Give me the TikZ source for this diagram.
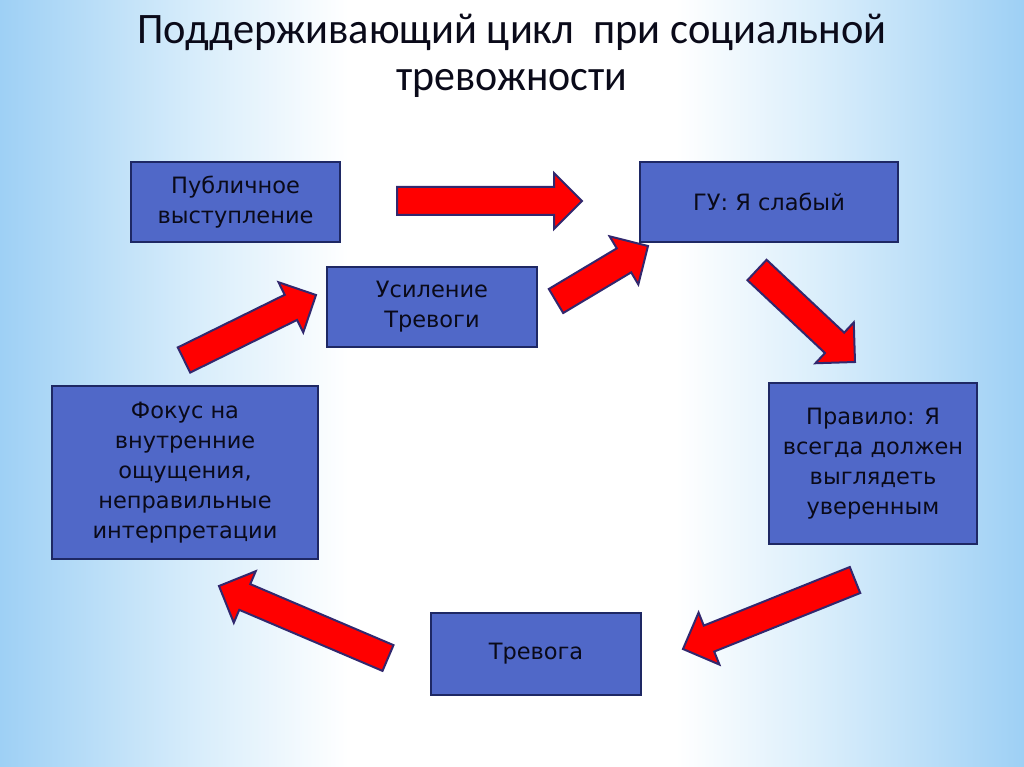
\documentclass[tikz,border=0pt]{standalone}
\usepackage{fontspec}
\setmainfont{DejaVu Sans}
\newfontfamily\titlefont{Carlito}
\usetikzlibrary{calc}
\definecolor{boxfill}{RGB}{80,104,200}
\definecolor{boxline}{RGB}{30,40,100}
\definecolor{arrline}{RGB}{50,40,110}
\definecolor{txt}{RGB}{10,10,25}
\definecolor{bgA}{RGB}{158,208,245}
\definecolor{bgB}{RGB}{218,238,251}
\pgfdeclarehorizontalshading{slidebg}{100bp}{color(0bp)=(bgA); color(25bp)=(bgA); color(35bp)=(bgB); color(42bp)=(white); color(58bp)=(white); color(65bp)=(bgB); color(75bp)=(bgA); color(100bp)=(bgA)}
\tikzset{
  box/.style={draw=boxline, line width=1.8pt, fill=boxfill, text=txt, align=center,
    inner sep=0pt, font=\fontsize{22.5}{30}\selectfont},
  redarrow/.style={draw=arrline, line width=2pt, fill=red, line join=miter},
  titletext/.style={text=txt, inner sep=0pt, font=\titlefont\fontsize{43.5}{47}\selectfont},
}
\newcommand\blockarrow[2]{%
  \coordinate (hb) at ($(#2)!28pt!(#1)$);
  \draw[redarrow] ($(#1)!14pt!90:(#2)$) -- ($(hb)!14pt!90:(#2)$) -- ($(hb)!28pt!90:(#2)$)
    -- (#2) -- ($(hb)!28pt!-90:(#2)$) -- ($(hb)!14pt!-90:(#2)$) -- ($(#1)!14pt!-90:(#2)$) -- cycle;}
\begin{document}
\begin{tikzpicture}[x=1pt,y=-1pt]
\useasboundingbox (0,0) rectangle (1024,767);
\shade[shading=slidebg] (0,0) rectangle (1024,767);

\node[titletext, anchor=base] (title1) at (512,44) {\resizebox{749pt}{\height}{Поддерживающий цикл\ \ при социальной}};
\node[titletext, anchor=base] (title2) at (512,91) {\resizebox{231pt}{\height}{тревожности}};

\node[box, minimum width=209pt, minimum height=80pt] (pub) at (235.5,202) {Публичное\\выступление};
\node[box, minimum width=258pt, minimum height=80pt] (gu) at (769,202) {ГУ: Я слабый};
\node[box, minimum width=210pt, minimum height=80pt] (usil) at (432,307) {Усиление\\Тревоги};
\node[box, minimum width=266pt, minimum height=173pt] (fokus) at (185,472.5) {Фокус на\\внутренние\\ощущения,\\неправильные\\интерпретации};
\node[box, minimum width=208pt, minimum height=161pt] (prav) at (873,463.5) {Правило: Я\\всегда должен\\выглядеть\\уверенным};
\node[box, minimum width=210pt, minimum height=82pt] (trev) at (536,654) {Тревога};

\coordinate (a1t) at (397,201); \coordinate (a1h) at (582,201);
\coordinate (a2t) at (556,301); \coordinate (a2h) at (648,246);
\coordinate (a3t) at (757,270); \coordinate (a3h) at (855,362);
\coordinate (a4t) at (855,580); \coordinate (a4h) at (683,649);
\coordinate (a5t) at (388,658); \coordinate (a5h) at (219,586);
\coordinate (a6t) at (184,360); \coordinate (a6h) at (316,295);
\blockarrow{a1t}{a1h}
\blockarrow{a2t}{a2h}
\blockarrow{a3t}{a3h}
\blockarrow{a4t}{a4h}
\blockarrow{a5t}{a5h}
\blockarrow{a6t}{a6h}
\end{tikzpicture}
\end{document}
